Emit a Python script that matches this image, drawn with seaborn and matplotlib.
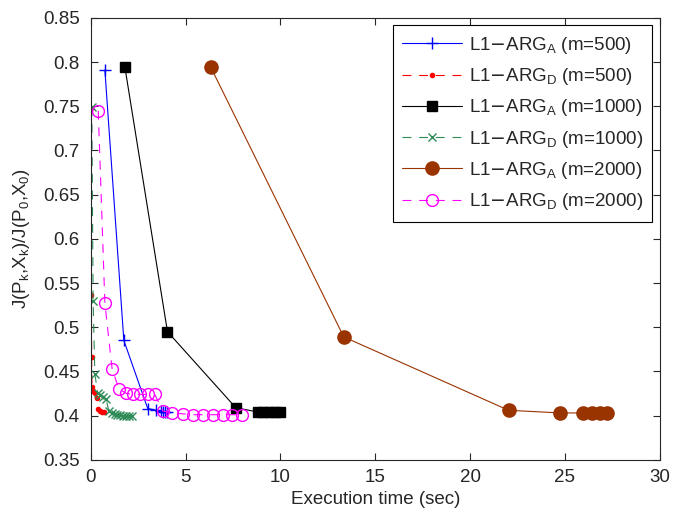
import numpy as np
import pandas as pd
import matplotlib
import matplotlib.pyplot as plt
import seaborn as sns

matplotlib.use("Agg")

# execution time (sec) and normalized objective J(Pk,Xk)/J(P0,X0)
t_a500 = [0.74, 1.74, 3.0, 3.45, 3.7, 3.8, 3.9, 4.0]
j_a500 = [0.791, 0.485, 0.408, 0.406, 0.405, 0.404, 0.404, 0.404]

t_d500 = [0.02, 0.03, 0.04, 0.06, 0.12, 0.2, 0.3, 0.4, 0.5, 0.6, 0.7]
j_d500 = [0.748, 0.537, 0.466, 0.432, 0.428, 0.425, 0.42, 0.407, 0.405, 0.404, 0.404]

t_a1000 = [1.79, 4.04, 7.64, 8.8, 9.1, 9.4, 9.7, 10.0]
j_a1000 = [0.795, 0.495, 0.409, 0.404, 0.404, 0.404, 0.404, 0.404]

t_d1000 = [0.05, 0.12, 0.21, 0.37, 0.5, 0.65, 0.8, 0.95, 1.1, 1.25, 1.4, 1.55, 1.7, 1.85, 2.0, 2.15]
j_d1000 = [0.749, 0.53, 0.447, 0.425, 0.423, 0.421, 0.419, 0.405, 0.403, 0.402, 0.401, 0.401, 0.4, 0.4, 0.4, 0.4]

t_a2000 = [6.33, 13.34, 22.03, 24.76, 25.95, 26.45, 26.85, 27.2]
j_a2000 = [0.794, 0.489, 0.406, 0.403, 0.403, 0.403, 0.403, 0.403]

t_d2000 = [0.39, 0.74, 1.12, 1.48, 1.88, 2.23, 2.58, 3.02, 3.37,
           3.8, 4.3, 4.85, 5.4, 5.9, 6.45, 6.95, 7.45, 7.95]
j_d2000 = [0.745, 0.527, 0.453, 0.43, 0.425, 0.424, 0.424, 0.424, 0.424,
           0.405, 0.403, 0.402, 0.401, 0.401, 0.401, 0.401, 0.401, 0.401]

LABELS = [
    r"L1$-$ARG$_\mathregular{A}$ (m=500)",
    r"L1$-$ARG$_\mathregular{D}$ (m=500)",
    r"L1$-$ARG$_\mathregular{A}$ (m=1000)",
    r"L1$-$ARG$_\mathregular{D}$ (m=1000)",
    r"L1$-$ARG$_\mathregular{A}$ (m=2000)",
    r"L1$-$ARG$_\mathregular{D}$ (m=2000)",
]

DASH = (0, (8, 7))
FONT_SIZE = 13.5

STYLES = [
    dict(color="blue", ls="-", marker="+", ms=9, mfc="blue"),
    dict(color="red", ls=DASH, marker=".", ms=6, mfc="red"),
    dict(color="black", ls="-", marker="s", ms=7.5, mfc="black"),
    dict(color="#2E8B57", ls=DASH, marker="x", ms=6, mfc="#2E8B57"),
    dict(color="#993300", ls="-", marker="o", ms=9.5, mfc="#993300"),
    dict(color="magenta", ls=DASH, marker="o", ms=8.5, mfc="none"),
]


def main():
    sns.set_style("ticks")
    plt.rcParams["font.family"] = ["Liberation Sans", "DejaVu Sans"]
    plt.rcParams["xtick.direction"] = "in"
    plt.rcParams["ytick.direction"] = "in"
    plt.rcParams["axes.linewidth"] = 0.8

    series = [
        (t_a500, j_a500), (t_d500, j_d500),
        (t_a1000, j_a1000), (t_d1000, j_d1000),
        (t_a2000, j_a2000), (t_d2000, j_d2000),
    ]

    fig, ax = plt.subplots(figsize=(6.78, 5.12), dpi=100)
    fig.subplots_adjust(left=0.134, right=0.973, top=0.965, bottom=0.102)

    for (t, j), label, st in zip(series, LABELS, STYLES):
        df = pd.DataFrame({"t": t, "j": j})
        sns.lineplot(
            data=df, x="t", y="j", ax=ax, sort=False, estimator=None,
            color=st["color"], linestyle=st["ls"], linewidth=0.8,
            marker=st["marker"], markersize=st["ms"], markeredgewidth=1.0,
            markerfacecolor=st["mfc"], markeredgecolor=st["color"],
            label=label,
        )

    ax.set_xlim(0, 30)
    ax.set_ylim(0.35, 0.85)
    ax.set_xticks(np.arange(0, 31, 5))
    ax.set_yticks(np.arange(0.35, 0.851, 0.05))
    ax.set_yticklabels(["0.35", "0.4", "0.45", "0.5", "0.55", "0.6",
                        "0.65", "0.7", "0.75", "0.8", "0.85"])
    ax.tick_params(axis="both", labelsize=FONT_SIZE, length=5, width=0.8,
                   top=True, right=True)
    ax.tick_params(axis="x", pad=7)
    ax.tick_params(axis="y", pad=8)
    for spine in ax.spines.values():
        spine.set_visible(True)
        spine.set_linewidth(0.8)

    ax.set_xlabel("Execution time (sec)", fontsize=FONT_SIZE, labelpad=3)
    ax.set_ylabel(r"J(P$_\mathregular{k}$,X$_\mathregular{k}$)/J(P$_\mathregular{0}$,X$_\mathregular{0}$)",
                  fontsize=FONT_SIZE, labelpad=8)

    leg = ax.legend(loc="upper right", fontsize=FONT_SIZE, handlelength=3.2,
                    handletextpad=0.35, labelspacing=0.55, borderpad=0.5,
                    fancybox=False, framealpha=1, edgecolor="black",
                    borderaxespad=0.4)
    leg.get_frame().set_linewidth(0.8)

    fig.savefig("out.png", dpi=100)
    plt.close(fig)


if __name__ == "__main__":
    main()
